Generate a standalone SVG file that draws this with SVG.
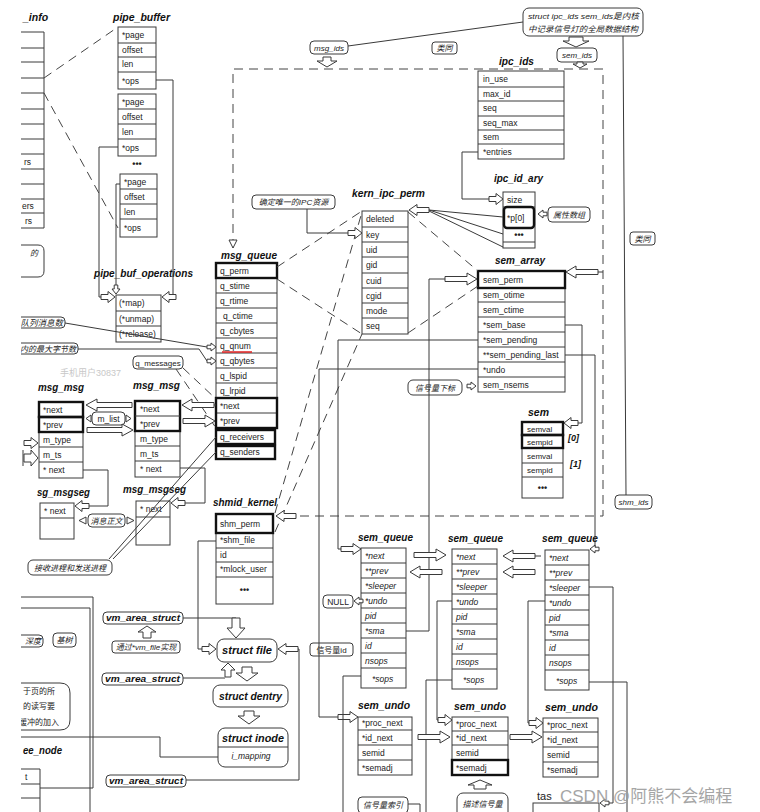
<svg xmlns="http://www.w3.org/2000/svg" xmlns:xlink="http://www.w3.org/1999/xlink" width="760" height="812" viewBox="0 0 760 812">
<defs>
<style>
.tb{fill:#fff;stroke:#3a3a3a;stroke-width:1}
.rl{fill:none;stroke:#3a3a3a;stroke-width:1}
.tk{fill:none;stroke:#111;stroke-width:2.4}
.ln{fill:none;stroke:#3a3a3a;stroke-width:1}
.dl{fill:none;stroke:#444;stroke-width:1;stroke-dasharray:9 6}
.ba{fill:#fff;stroke:#3a3a3a;stroke-width:1}
.lb{fill:#fff;stroke:#3a3a3a;stroke-width:1}
text{font-family:"Liberation Sans",Arial,"Noto Sans CJK SC",sans-serif;fill:#222}
.c{font-size:8.5px}
.ci{font-size:8.5px;font-style:italic}
.h{font-size:10.5px;font-weight:bold;font-style:italic;fill:#111}
.z{font-size:8px;font-style:italic}
.m{text-anchor:middle}
.e{text-anchor:end}
.dots{font-size:9px;font-weight:bold;text-anchor:middle}
</style>
<path id="bax" class="ba" d="M-46,-2.5H-11V-6L0,0L-11,6V2.5H-46Z"/>
<path id="bal" class="ba" d="M-32,-2.5H-10V-6L0,0L-10,6V2.5H-32Z"/>
<path id="bam" class="ba" d="M-20,-2.5H-8V-5.5L0,0L-8,5.5V2.5H-20Z"/>
<path id="bas" class="ba" d="M-14,-2.5H-7V-5.5L0,0L-7,5.5V2.5H-14Z"/>
<path id="bat" class="ba" d="M-9,-1.8H-5V-4L0,0L-5,4V1.8H-9Z"/>
</defs>
<rect x="0" y="0" width="760" height="812" fill="#fff"/>

<text x="60" y="376" style="font-size:9px;fill:#c8c8c8">手机用户30837</text>

<g id="pipe_info">
<text class="h" x="23" y="21">_info</text>
<path class="rl" d="M0,32H44M0,48H44M0,62H44M0,78H44M0,93H44M0,109H44M0,124H44M0,139H44M0,154H44M0,169H44M0,184H44M0,199H44M0,213H44M0,228H44M44,32V228"/>
<text class="c" x="24" y="165">rs</text>
<text class="c" x="22" y="209">ers</text>
<text class="c" x="25" y="224">rs</text>
<path class="ln" d="M0,245H38Q44,245 44,251V271Q44,277 38,277H0"/>
<text class="z" x="30" y="256">的</text>
</g>

<g id="pipe_buffer">
<text class="h" x="113" y="21" textLength="57" lengthAdjust="spacingAndGlyphs">pipe_buffer</text>
<rect class="tb" x="118" y="27" width="38" height="62"/>
<path class="rl" d="M118,43H156M118,57H156M118,72H156"/>
<text class="c" x="122" y="38">*page</text><text class="c" x="122" y="53">offset</text><text class="c" x="122" y="67">len</text><text class="c" x="122" y="84">*ops</text>
<rect class="tb" x="118" y="94" width="38" height="62"/>
<path class="rl" d="M118,109H156M118,124H156M118,139H156"/>
<text class="c" x="122" y="105">*page</text><text class="c" x="122" y="120">offset</text><text class="c" x="122" y="135">len</text><text class="c" x="122" y="151">*ops</text>
<text class="dots" x="137" y="167">•••</text>
<rect class="tb" x="120" y="174" width="37" height="63"/>
<path class="rl" d="M120,189H157M120,204H157M120,219H157"/>
<text class="c" x="124" y="185">*page</text><text class="c" x="124" y="200">offset</text><text class="c" x="124" y="215">len</text><text class="c" x="124" y="231">*ops</text>
</g>

<g id="pipe_buf_operations">
<text class="h" x="94" y="277" textLength="99" lengthAdjust="spacingAndGlyphs">pipe_buf_operations</text>
<rect class="tb" x="116" y="295" width="45" height="47"/>
<path class="rl" d="M116,311H161M116,326H161"/>
<text class="c" x="119" y="306">(*map)</text><text class="c" x="119" y="322">(*unmap)</text><text class="c" x="119" y="337">(*release)</text>
</g>

<g id="msg_ids">
<rect class="lb" x="310" y="41" width="38" height="13" rx="4"/>
<text class="z m" x="329" y="51">msg_ids</text>
</g>
<g id="leisi_top">
<rect class="lb" x="432" y="42" width="25" height="12" rx="3"/>
<text class="z m" x="444.5" y="51">类同</text>
</g>
<g id="ipc_ids_note">
<rect class="lb" x="523" y="8" width="120" height="28" rx="6"/>
<text class="z" x="528" y="19" textLength="111" lengthAdjust="spacingAndGlyphs">struct ipc_ids sem_ids是内核</text>
<text class="z" x="528" y="32" textLength="110" lengthAdjust="spacingAndGlyphs">中记录信号灯的全局数据结构</text>
</g>
<g id="sem_ids">
<rect class="lb" x="557" y="48" width="40" height="14" rx="4"/>
<text class="z m" x="577" y="58">sem_ids</text>
</g>
<g id="leisi_right">
<rect class="lb" x="630" y="232" width="25" height="13" rx="3"/>
<text class="z m" x="642.5" y="242">类同</text>
</g>
<g id="shm_ids">
<rect class="lb" x="615" y="495" width="37" height="14" rx="4"/>
<text class="z m" x="633.5" y="505">shm_ids</text>
</g>

<g id="ipc_ids">
<text class="h" x="499" y="65" textLength="35" lengthAdjust="spacingAndGlyphs">ipc_ids</text>
<rect class="tb" x="478" y="71" width="86" height="88"/>
<path class="rl" d="M478,87H564M478,101H564M478,116H564M478,130H564M478,144H564"/>
<text class="c" x="483" y="82">in_use</text><text class="c" x="483" y="97">max_id</text><text class="c" x="483" y="111">seq</text><text class="c" x="483" y="126">seq_max</text><text class="c" x="483" y="140">sem</text><text class="c" x="483" y="155">*entries</text>
</g>

<g id="ipc_id_ary">
<text class="h" x="494" y="182" textLength="49" lengthAdjust="spacingAndGlyphs">ipc_id_ary</text>
<rect class="tb" x="503" y="192" width="32" height="56"/>
<path class="rl" d="M503,207H535M503,242H535"/>
<rect class="tk" x="504" y="207" width="30" height="21" rx="3"/>
<text class="c" x="507" y="203">size</text><text class="c" x="507" y="221">*p[0]</text>
<text class="dots" x="519" y="238">•••</text>
</g>
<g id="shuxing">
<rect class="lb" x="548" y="207" width="42" height="15" rx="4"/>
<text class="z m" x="569" y="218">属性数组</text>
</g>

<g id="kern_ipc_perm">
<text class="h" x="352" y="197" textLength="73" lengthAdjust="spacingAndGlyphs">kern_ipc_perm</text>
<rect class="tb" x="362" y="211" width="46" height="123"/>
<path class="rl" d="M362,227H408M362,242H408M362,257H408M362,273H408M362,288H408M362,303H408M362,318H408"/>
<text class="c" x="366" y="222">deleted</text><text class="c" x="366" y="238">key</text><text class="c" x="366" y="253">uid</text><text class="c" x="366" y="268">gid</text><text class="c" x="366" y="284">cuid</text><text class="c" x="366" y="299">cgid</text><text class="c" x="366" y="314">mode</text><text class="c" x="366" y="329">seq</text>
</g>
<g id="unique_note">
<rect class="lb" x="252" y="195" width="83" height="14" rx="4"/>
<text class="z m" x="293.5" y="205">确定唯一的IPC资源</text>
</g>

<g id="msg_queue">
<text class="h" x="221" y="259" textLength="56" lengthAdjust="spacingAndGlyphs">msg_queue</text>
<rect class="tb" x="216" y="263" width="61" height="165"/>
<path class="rl" d="M216,293H277M216,308H277M216,323H277M216,338H277M216,353H277M216,368H277M216,383H277M216,413H277"/>
<rect class="tk" x="216" y="263" width="61" height="15"/>
<rect class="tk" x="216" y="398" width="61" height="30"/>
<rect class="tk" x="216" y="430" width="59" height="14"/>
<rect class="tk" x="216" y="446" width="59" height="13"/>
<text class="c" x="220" y="274">q_perm</text><text class="c" x="220" y="289">q_stime</text><text class="c" x="220" y="304">q_rtime</text><text class="c" x="223" y="319">q_ctime</text><text class="c" x="220" y="334">q_cbytes</text><text class="c" x="220" y="349">q_qnum</text><text class="c" x="220" y="364">q_qbytes</text><text class="c" x="220" y="379">q_lspid</text><text class="c" x="220" y="394">q_lrpid</text><text class="c" x="220" y="409">*next</text><text class="c" x="220" y="424">*prev</text><text class="c" x="220" y="440">q_receivers</text><text class="c" x="220" y="455">q_senders</text>
<path d="M222,352H252" stroke="#e02020" stroke-width="1.5"/>
</g>

<g id="q_messages">
<rect class="lb" x="133" y="356" width="50" height="13" rx="4"/>
<text class="c m" x="158" y="366" style="font-size:8px">q_messages</text>
</g>
<g id="note_qnum">
<path class="ln" d="M0,317H61Q65,317 65,321V324Q65,328 61,328H0" fill="#fff"/>
<text class="z e" x="63" y="326" style="font-size:8.5px">队列消息数</text>
</g>
<g id="note_qbytes">
<path class="ln" d="M0,343H74Q78,343 78,347V350Q78,354 74,354H0" fill="#fff"/>
<text class="z e" x="76" y="352">内的最大字节数</text>
</g>

<g id="msg_msg_1">
<text class="h" x="38" y="391" textLength="46" lengthAdjust="spacingAndGlyphs">msg_msg</text>
<rect class="tb" x="39" y="402" width="44" height="76"/>
<path class="rl" d="M39,447H83M39,462H83"/>
<rect class="tk" x="39" y="402" width="44" height="15"/>
<rect class="tk" x="39" y="417" width="44" height="15"/>
<text class="c" x="43" y="413">*next</text><text class="c" x="43" y="428">*prev</text><text class="c" x="43" y="443">m_type</text><text class="c" x="43" y="458">m_ts</text><text class="c" x="43" y="473">* next</text>
</g>
<g id="msg_msg_2">
<text class="h" x="133" y="389" textLength="47" lengthAdjust="spacingAndGlyphs">msg_msg</text>
<rect class="tb" x="135" y="401" width="45" height="76"/>
<path class="rl" d="M135,446H180M135,461H180"/>
<rect class="tk" x="135" y="401" width="45" height="30"/>
<path class="rl" d="M135,416H180"/>
<text class="c" x="140" y="412">*next</text><text class="c" x="140" y="427">*prev</text><text class="c" x="140" y="442">m_type</text><text class="c" x="140" y="457">m_ts</text><text class="c" x="140" y="472">* next</text>
</g>
<g id="m_list">
<rect class="lb" x="92" y="412" width="33" height="13" rx="4"/>
<text class="c m" x="108.5" y="422">m_list</text>
</g>

<g id="msg_msgseg_1">
<text class="h" x="37" y="496" textLength="53" lengthAdjust="spacingAndGlyphs">sg_msgseg</text>
<rect class="tb" x="40" y="503" width="34" height="36"/>
<path class="rl" d="M40,518H74"/>
<text class="c" x="44" y="514">* next</text>
</g>
<g id="msg_msgseg_2">
<text class="h" x="123" y="493" textLength="63" lengthAdjust="spacingAndGlyphs">msg_msgseg</text>
<rect class="tb" x="136" y="501" width="34" height="44"/>
<path class="rl" d="M136,517H170"/>
<text class="c" x="140" y="512">* next</text>
</g>
<g id="msg_body">
<rect class="lb" x="88" y="514" width="37" height="13" rx="4"/>
<text class="z m" x="106.5" y="524">消息正文</text>
</g>
<g id="recv_send">
<rect class="lb" x="28" y="560" width="84" height="15" rx="5"/>
<text class="z m" x="70" y="571">接收进程和发送进程</text>
</g>

<g id="shmid_kernel">
<text class="h" x="213" y="506" textLength="64" lengthAdjust="spacingAndGlyphs">shmid_kernel</text>
<rect class="tb" x="216" y="514" width="57" height="90"/>
<path class="rl" d="M216,548H273M216,562H273M216,577H273"/>
<rect class="tk" x="216" y="514" width="57" height="19"/>
<text class="c" x="220" y="527">shm_perm</text><text class="c" x="220" y="543">*shm_file</text><text class="c" x="220" y="558">id</text><text class="c" x="220" y="572">*mlock_user</text>
<text class="dots" x="244.5" y="593">•••</text>
</g>

<g id="sem_array">
<text class="h" x="495" y="264" textLength="50" lengthAdjust="spacingAndGlyphs">sem_array</text>
<rect class="tb" x="478" y="271" width="87" height="121"/>
<path class="rl" d="M478,302H565M478,317H565M478,332H565M478,347H565M478,362H565M478,377H565"/>
<rect class="tk" x="478" y="271" width="87" height="17"/>
<text class="c" x="483" y="283">sem_perm</text><text class="c" x="483" y="298">sem_otime</text><text class="c" x="483" y="313">sem_ctime</text><text class="c" x="483" y="328">*sem_base</text><text class="c" x="483" y="343">*sem_pending</text><text class="c" x="483" y="358">**sem_pending_last</text><text class="c" x="483" y="373">*undo</text><text class="c" x="483" y="388">sem_nsems</text>
</g>
<g id="sem_index_note">
<rect class="lb" x="408" y="380" width="54" height="15" rx="5"/>
<text class="z m" x="435" y="391">信号量下标</text>
</g>

<g id="sem">
<text class="h" x="528" y="416" textLength="21" lengthAdjust="spacingAndGlyphs">sem</text>
<rect class="tb" x="522" y="422" width="41" height="76"/>
<path class="rl" d="M522,463H563M522,477H563"/>
<rect class="tk" x="522" y="422" width="41" height="13"/>
<rect class="tk" x="522" y="435" width="41" height="13"/>
<text class="c" x="527" y="432" style="font-size:8px">semval</text><text class="c" x="527" y="445" style="font-size:8px">sempid</text><text class="c" x="527" y="459" style="font-size:8px">semval</text><text class="c" x="527" y="473" style="font-size:8px">sempid</text>
<text class="dots" x="542.5" y="491">•••</text>
<text class="h" x="568" y="441" style="font-size:9px">[0]</text>
<text class="h" x="570" y="467" style="font-size:9px">[1]</text>
</g>

<g id="sem_queue_1">
<text class="h" x="358" y="541" textLength="55" lengthAdjust="spacingAndGlyphs">sem_queue</text>
<rect class="tb" x="361" y="548" width="45" height="140"/>
<path class="rl" d="M361,563H406M361,578H406M361,593H406M361,608H406M361,623H406M361,638H406M361,653H406M361,668H406"/>
<text class="ci" x="365" y="559">*next</text><text class="ci" x="365" y="574">**prev</text><text class="ci" x="365" y="589">*sleeper</text><text class="ci" x="365" y="604">*undo</text><text class="ci" x="365" y="619">pid</text><text class="ci" x="365" y="634">*sma</text><text class="ci" x="365" y="649">id</text><text class="ci" x="365" y="664">nsops</text><text class="ci" x="372" y="682">*sops</text>
</g>
<g id="sem_queue_2">
<text class="h" x="448" y="542" textLength="55" lengthAdjust="spacingAndGlyphs">sem_queue</text>
<rect class="tb" x="452" y="549" width="45" height="140"/>
<path class="rl" d="M452,564H497M452,579H497M452,594H497M452,609H497M452,624H497M452,639H497M452,654H497M452,669H497"/>
<text class="ci" x="456" y="560">*next</text><text class="ci" x="456" y="575">**prev</text><text class="ci" x="456" y="590">*sleeper</text><text class="ci" x="456" y="605">*undo</text><text class="ci" x="456" y="620">pid</text><text class="ci" x="456" y="635">*sma</text><text class="ci" x="456" y="650">id</text><text class="ci" x="456" y="665">nsops</text><text class="ci" x="463" y="683">*sops</text>
</g>
<g id="sem_queue_3">
<text class="h" x="542" y="542" textLength="56" lengthAdjust="spacingAndGlyphs">sem_queue</text>
<rect class="tb" x="545" y="550" width="44" height="140"/>
<path class="rl" d="M545,565H589M545,580H589M545,595H589M545,610H589M545,625H589M545,640H589M545,655H589M545,670H589"/>
<text class="ci" x="549" y="561">*next</text><text class="ci" x="549" y="576">**prev</text><text class="ci" x="549" y="591">*sleeper</text><text class="ci" x="549" y="606">*undo</text><text class="ci" x="549" y="621">pid</text><text class="ci" x="549" y="636">*sma</text><text class="ci" x="549" y="651">id</text><text class="ci" x="549" y="666">nsops</text><text class="ci" x="556" y="684">*sops</text>
</g>
<g id="null_box">
<rect class="lb" x="323" y="595" width="30" height="13" rx="4"/>
<text class="c m" x="338" y="605">NULL</text>
</g>
<g id="sem_id_note">
<rect class="lb" x="310" y="643" width="43" height="13" rx="3"/>
<text class="c m" x="331.5" y="653" style="font-size:8px">信号量id</text>
</g>

<g id="sem_undo_1">
<text class="h" x="358" y="709" textLength="52" lengthAdjust="spacingAndGlyphs">sem_undo</text>
<rect class="tb" x="358" y="717" width="54" height="58"/>
<path class="rl" d="M358,730H412M358,745H412M358,760H412"/>
<text class="c" x="362" y="726">*proc_next</text><text class="c" x="362" y="741">*id_next</text><text class="c" x="362" y="756">semid</text><text class="c" x="362" y="771">*semadj</text>
</g>
<g id="sem_undo_2">
<text class="h" x="454" y="710" textLength="52" lengthAdjust="spacingAndGlyphs">sem_undo</text>
<rect class="tb" x="452" y="717" width="56" height="58"/>
<path class="rl" d="M452,731H508M452,745H508"/>
<rect class="tk" x="452" y="760" width="56" height="15"/>
<text class="c" x="456" y="727">*proc_next</text><text class="c" x="456" y="741">*id_next</text><text class="c" x="456" y="756">semid</text><text class="c" x="456" y="771">*semadj</text>
</g>
<g id="sem_undo_3">
<text class="h" x="545" y="711" textLength="53" lengthAdjust="spacingAndGlyphs">sem_undo</text>
<rect class="tb" x="543" y="718" width="55" height="59"/>
<path class="rl" d="M543,732H598M543,747H598M543,762H598"/>
<text class="c" x="547" y="728">*proc_next</text><text class="c" x="547" y="743">*id_next</text><text class="c" x="547" y="758">semid</text><text class="c" x="547" y="773">*semadj</text>
</g>
<g id="desc_sem">
<rect class="lb" x="457" y="793" width="51" height="25" rx="6"/>
<text class="z m" x="482.5" y="807">描述信号量</text>
</g>
<g id="sem_idx_note">
<rect class="lb" x="358" y="797" width="50" height="16" rx="4"/>
<text class="z m" x="383" y="808">信号量索引</text>
</g>
<g id="task_struct">
<text x="537" y="800" style="font-size:11px">tas</text>
<rect class="tb" x="533" y="803" width="66" height="15"/>
</g>

<g id="vm_area_struct_1">
<rect class="lb" x="103" y="612" width="80" height="12" rx="4"/>
<text class="h" x="106" y="621" style="font-size:9.5px" textLength="74" lengthAdjust="spacingAndGlyphs">vm_area_struct</text>
</g>
<g id="vm_file_note">
<rect class="lb" x="112" y="641" width="68" height="12" rx="3"/>
<text class="z m" x="146" y="650">通过*vm_file实现</text>
</g>
<g id="vm_area_struct_2">
<rect class="lb" x="102" y="673" width="81" height="12" rx="4"/>
<text class="h" x="105" y="682" style="font-size:9.5px" textLength="75" lengthAdjust="spacingAndGlyphs">vm_area_struct</text>
</g>
<g id="vm_area_struct_3">
<rect class="lb" x="106" y="775" width="80" height="12" rx="4"/>
<text class="h" x="109" y="784" style="font-size:9.5px" textLength="74" lengthAdjust="spacingAndGlyphs">vm_area_struct</text>
</g>
<g id="struct_file">
<rect class="lb" x="217" y="639" width="60" height="23" rx="7"/>
<text class="h m" x="247" y="654" textLength="50" lengthAdjust="spacingAndGlyphs">struct file</text>
</g>
<g id="struct_dentry">
<rect class="lb" x="213" y="685" width="75" height="22" rx="7"/>
<text class="h m" x="250.5" y="700" textLength="63" lengthAdjust="spacingAndGlyphs">struct dentry</text>
</g>
<g id="struct_inode">
<rect class="lb" x="218" y="728" width="70" height="39" rx="7"/>
<path class="rl" d="M218,747H288"/>
<text class="h m" x="253" y="742" textLength="62" lengthAdjust="spacingAndGlyphs">struct inode</text>
<text class="ci m" x="251" y="759">i_mapping</text>
</g>

<g id="left_bottom">
<path class="ln" d="M0,635H39Q43,635 43,639V643Q43,647 39,647H0" fill="#fff"/>
<text class="z e" x="41" y="644">深度</text>
<rect class="lb" x="53" y="633" width="23" height="14" rx="4"/>
<text class="z m" x="64.5" y="643">基树</text>
<path class="ln" d="M0,683H60Q70,683 70,693V720Q70,730 60,730H0" fill="#fff"/>
<text class="c" x="23" y="694" style="font-size:8px">于页的所</text>
<text class="c" x="23" y="709" style="font-size:8px">的读写要</text>
<text class="c" x="19" y="725" style="font-size:8px">缓冲的加入</text>
</g>
<g id="tree_node">
<text class="h" x="23" y="754" textLength="39" lengthAdjust="spacingAndGlyphs">ee_node</text>
<path class="rl" d="M0,769H40V812M0,784H40M0,798H40"/>
<text class="c" x="25" y="780">t</text>
</g>

<g id="connectors">
<path class="dl" d="M44,78L118,27M44,93L118,228"/>
<path class="dl" d="M277,267L362,211M277,279L362,334"/>
<path class="dl" d="M275,513L362,212M275,532L362,334"/>
<path class="dl" d="M408,212L478,271M408,333L478,286"/>
<path class="dl" d="M183,368L216,399M176,369L216,428"/>
<path class="dl" d="M233,248V69H603V516H296"/>
<path class="ba" d="M229,240H237L233,248Z"/>
<path class="ln" d="M156,80H173V297"/>
<use href="#bas" transform="translate(162,297) rotate(180)"/>
<path class="ln" d="M118,147H99V297H101"/>
<use href="#bas" transform="translate(115,297)"/>
<path class="ln" d="M120,184H116V285"/>
<use href="#bat" transform="translate(116,294) rotate(90)"/>
<path class="ln" d="M348,46L523,22"/>
<path class="ba" d="M323,57H331V61H337L327,67L317,61H323Z"/>
<path class="ba" d="M569,37H583V41H589L576,47L563,41H569Z"/>
<path class="ba" d="M577,62H583V64H587L580,68L573,64H577Z"/>
<path class="ln" d="M623,36L626,495"/>
<path class="ln" d="M478,152H462V199H489"/>
<use href="#bas" transform="translate(503,199)"/>
<use href="#bat" transform="translate(538,214) rotate(180)"/>
<path class="ln" d="M429,210L503,217M429,210L503,234M429,211L503,247"/>
<use href="#bam" transform="translate(409,210) rotate(180)"/>
<path class="ln" d="M307,209V233H348"/>
<use href="#bas" transform="translate(362,233)"/>
<path class="ln" d="M65,323L207,347"/>
<use href="#bat" transform="translate(216,347)"/>
<path class="ln" d="M78,349H199L207,361"/>
<use href="#bat" transform="translate(216,361)"/>
<use href="#bax" transform="translate(86,405) rotate(180)"/>
<use href="#bax" transform="translate(133,430)"/>
<path class="ba" d="M91,415L86,418.5L91,422Z"/>
<path class="ba" d="M126,415L131,418.5L126,422Z"/>
<use href="#bal" transform="translate(182,405) rotate(180)"/>
<path class="ln" d="M214,405H216"/>
<use href="#bal" transform="translate(215,421)"/>
<use href="#bas" transform="translate(38,443)"/>
<path class="ba" d="M24,454H31V450L38,458L31,466V462H24Z"/>
<path class="ln" d="M23,450V466"/>
<path class="ln" d="M83,470H108V506H89"/>
<use href="#bas" transform="translate(75,506) rotate(180)"/>
<path class="ln" d="M180,468H205V503H185"/>
<use href="#bas" transform="translate(171,503) rotate(180)"/>
<path class="ba" d="M86,517L79,520.5L86,524Z"/>
<path class="ba" d="M127,517L134,520.5L127,524Z"/>
<path class="ln" d="M109,559L216,437M113,559L216,452"/>
<use href="#bam" transform="translate(276,516) rotate(180)"/>
<path class="ln" d="M216,541H198V649H202"/>
<use href="#bas" transform="translate(216,649)"/>
<path class="ln" d="M183,618H236"/>
<path class="ba" d="M232,618H240V628H245L236,638L227,628H232Z"/>
<path class="ba" d="M143,638H151V632H156L147,626L138,632H143Z"/>
<path class="ln" d="M183,678H225"/>
<path class="ba" d="M225,677V670H221L228,663L235,670H231V677Z"/>
<path class="ln" d="M186,780H299V649H298"/>
<use href="#bam" transform="translate(278,649) rotate(180)"/>
<path class="ba" d="M242,667H252V673H258L247,681L236,673H242Z"/>
<path class="ba" d="M244,711H254V716H260L249,724L238,716H244Z"/>
<path class="ln" d="M0,737H160V757H218"/>
<path class="ln" d="M0,597H93V788H40"/>
<path class="ln" d="M0,608H90V812"/>
<path class="ln" d="M406,631H429V279H445"/>
<use href="#bal" transform="translate(477,279)"/>
<use href="#bal" transform="translate(566,272) rotate(180)"/>
<path class="ln" d="M598,272H603"/>
<path class="ln" d="M565,325H582V423H578"/>
<use href="#bas" transform="translate(564,423) rotate(180)"/>
<use href="#bat" transform="translate(476,386)"/>
<path class="ln" d="M478,340H338V549H341"/>
<use href="#bam" transform="translate(361,549)"/>
<path class="ln" d="M478,369H319V717H338"/>
<use href="#bam" transform="translate(358,717)"/>
<path class="ln" d="M565,355H595V549"/>
<use href="#bat" transform="translate(590,549) rotate(180)"/>
<use href="#bal" transform="translate(446,555)"/>
<use href="#bal" transform="translate(410,572) rotate(180)"/>
<use href="#bal" transform="translate(503,556) rotate(180)"/>
<path class="ln" d="M535,556H541"/>
<use href="#bal" transform="translate(503,572) rotate(180)"/>
<use href="#bat" transform="translate(354,601) rotate(180)"/>
<path class="ln" d="M361,676H343V812"/>
<path class="ln" d="M452,601H437V720H438"/>
<use href="#bas" transform="translate(452,720)"/>
<path class="ln" d="M452,680H426V812"/>
<path class="ln" d="M545,601H528V723H529"/>
<use href="#bas" transform="translate(543,723)"/>
<path class="ln" d="M589,587H613V803H609"/>
<use href="#bat" transform="translate(600,803) rotate(180)"/>
<path class="ln" d="M589,682H627V812"/>
<use href="#bal" transform="translate(450,737)"/>
<use href="#bal" transform="translate(542,737)"/>
<path class="ba" d="M474,789H486V785H492L480,780L468,785H474Z"/>
<path class="ln" d="M408,804H420V812"/>
</g>

<rect x="0" y="0" width="21" height="812" fill="#fff"/>
<text x="560" y="802" style="font-size:17px;fill:#9c9c9c;opacity:0.9">CSDN @阿熊不会编程</text>
</svg>
